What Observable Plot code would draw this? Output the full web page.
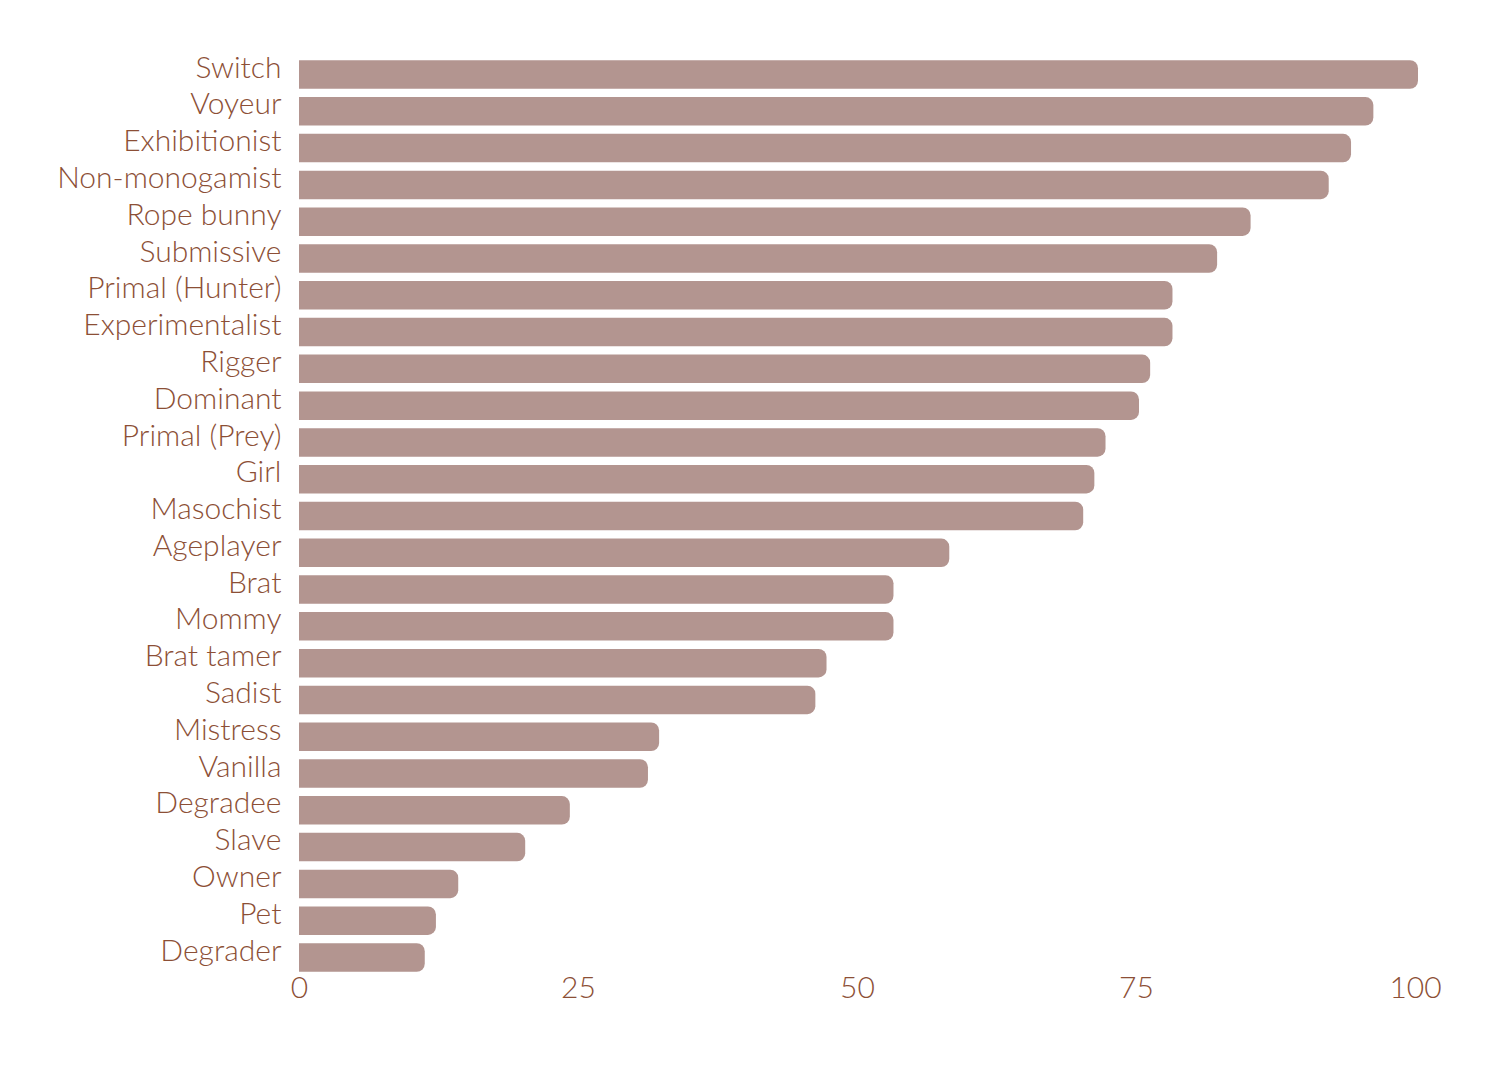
<!DOCTYPE html>
<html>
<head>
<meta charset="utf-8">
<script src="https://cdn.jsdelivr.net/npm/d3@7"></script>
<script src="https://cdn.jsdelivr.net/npm/@observablehq/plot@0.6"></script>
<style>
  html, body { margin: 0; padding: 0; background: #ffffff; }
  #chart { width: 1500px; height: 1068px; }
</style>
</head>
<body>
<div id="chart"></div>
<script>
const categories = [
  "Switch", "Voyeur", "Exhibitionist", "Non-monogamist", "Rope bunny",
  "Submissive", "Primal (Hunter)", "Experimentalist", "Rigger", "Dominant",
  "Primal (Prey)", "Girl", "Masochist", "Ageplayer", "Brat",
  "Mommy", "Brat tamer", "Sadist", "Mistress", "Vanilla",
  "Degradee", "Slave", "Owner", "Pet", "Degrader"
];
const values = [
  100, 96, 94, 92, 85,
  82, 78, 78, 76, 75,
  72, 71, 70, 58, 53,
  53, 47, 46, 32, 31,
  24, 20, 14, 12, 11
];
const xTicks = [0, 25, 50, 75, 100];

const data = categories.map((c, i) => ({category: c, value: values[i]}));

const barColor = "#b39590";
const textColor = "#8c4f36";

const chart = Plot.plot({
  width: 1500,
  height: 1068,
  marginLeft: 299,
  marginRight: 70,
  marginTop: 52,
  marginBottom: 88,
  style: {
    fontFamily: "Lato, 'Open Sans', sans-serif",
    fontWeight: 300,
    fontSize: "30px",
    color: textColor,
    background: "#ffffff"
  },
  x: {domain: [0, 100], range: [299, 1415]},
  y: {domain: categories, padding: 0.225, round: false},
  marks: [
    Plot.barX(data, {x: "value", y: "category", fill: barColor, rx: 8, insetRight: -3, insetLeft: -12, clip: true}),
    Plot.axisY({tickSize: 0, tickPadding: 18, dy: -7, label: null}),
    Plot.axisX({ticks: xTicks, tickSize: 0, tickPadding: -4, label: null})
  ]
});
document.getElementById("chart").appendChild(chart);
</script>
</body>
</html>
